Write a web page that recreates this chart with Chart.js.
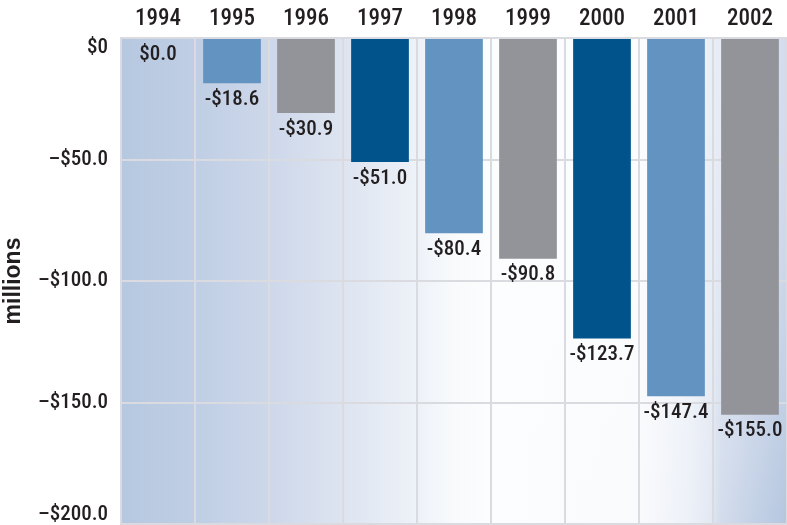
<!DOCTYPE html>
<html>
<head>
<meta charset="utf-8">
<script src="https://cdn.jsdelivr.net/npm/chart.js@4.4.1/dist/chart.umd.min.js"></script>
<style>
  html, body { margin: 0; padding: 0; background: #ffffff; }
  #wrap { width: 787px; height: 525px; position: relative; }
</style>
</head>
<body>
<div id="wrap"><canvas id="c" width="787" height="525"></canvas></div>
<script>
const years = ['1994', '1995', '1996', '1997', '1998', '1999', '2000', '2001', '2002'];
const values = [0.0, -18.6, -30.9, -51.0, -80.4, -90.8, -123.7, -147.4, -155.0];
const barColors = ['#6393c0', '#6393c0', '#939499', '#00538b', '#6393c0', '#939499', '#00538b', '#6393c0', '#939499'];
const yTickLabels = { '0': '$0', '-50': '\u2013$50.0', '-100': '\u2013$100.0', '-150': '\u2013$150.0', '-200': '\u2013$200.0' };
const yTitle = 'millions';

const FONT = "'Roboto Condensed', Roboto, sans-serif";
const TEXT = '#231f20';
const GRID = '#d9dbe0';

function fmt(v) {
  if (v === 0) return '$0.0';
  return (v < 0 ? '-$' : '$') + Math.abs(v).toFixed(1);
}

const topStops = [[0, '#b6c8e0'], [0.11, '#bfcee4'], [0.22, '#cdd7ea'], [0.33, '#dde4f0'], [0.44, '#edf1f8'],
  [0.5, '#f8fafc'], [0.56, '#fcfdfe'], [0.78, '#fbfcfe'], [0.85, '#f2f5fa'], [0.9, '#e6ebf5'], [1.0, '#d3dcec']];
const botStops = [[0, '#b6c8e0'], [0.11, '#bfcee4'], [0.22, '#cdd7ea'], [0.33, '#dde4f0'], [0.44, '#edf1f8'],
  [0.5, '#f8fafc'], [0.56, '#fcfdfe'], [0.78, '#f9fafc'], [0.85, '#edf1f8'], [0.885, '#e3e9f3'], [0.9, '#d3dcec'], [1.0, '#b4c6df']];

const bgPlugin = {
  id: 'bg',
  beforeDraw(chart) {
    const { ctx, chartArea: a } = chart;
    const w = a.right - a.left, h = a.bottom - a.top;
    const mk = (stops) => {
      const g = ctx.createLinearGradient(a.left, 0, a.right, 0);
      stops.forEach(s => g.addColorStop(s[0], s[1]));
      return g;
    };
    ctx.save();
    ctx.fillStyle = mk(botStops);
    ctx.fillRect(a.left, a.top, w, h);
    ctx.fillStyle = mk(topStops);
    const step = 2;
    for (let y = 0; y < h; y += step) {
      const t = y / h;
      ctx.globalAlpha = 1 - Math.pow(t, 1.8);
      ctx.fillRect(a.left, a.top + y, w, step);
    }
    ctx.restore();
  }
};

const labelPlugin = {
  id: 'vlabels',
  afterDatasetsDraw(chart) {
    const { ctx } = chart;
    const meta = chart.getDatasetMeta(0);
    ctx.save();
    ctx.font = "500 21px " + FONT;
    ctx.fillStyle = TEXT;
    ctx.textAlign = 'center';
    ctx.textBaseline = 'top';
    meta.data.forEach((bar, i) => {
      const v = chart.data.datasets[0].data[i];
      const yEnd = Math.max(bar.y, bar.base);
      ctx.fillText(fmt(v), bar.x, yEnd + 6);
    });
    ctx.restore();
  }
};

new Chart(document.getElementById('c'), {
  type: 'bar',
  data: {
    labels: years,
    datasets: [{
      data: values,
      backgroundColor: barColors,
      borderWidth: 0,
      barPercentage: 0.78,
      categoryPercentage: 1.0
    }]
  },
  options: {
    responsive: false,
    animation: false,
    devicePixelRatio: 1,
    layout: { padding: { left: 0, right: 0, top: 0, bottom: 1 } },
    plugins: { legend: { display: false }, tooltip: { enabled: false } },
    scales: {
      x: {
        position: 'top',
        grid: { color: GRID, lineWidth: 2, drawTicks: false, offset: true },
        border: { color: GRID, width: 2 },
        ticks: { color: TEXT, font: { family: FONT, size: 23, weight: '500' }, padding: 5, maxRotation: 0 },
        afterFit(s) { s.height = 38; s.paddingLeft = 0; s.paddingRight = 0; }
      },
      y: {
        min: -200, max: 0,
        grid: { color: GRID, lineWidth: 2, drawTicks: false },
        border: { color: GRID, width: 2 },
        ticks: {
          stepSize: 50,
          color: TEXT,
          font: { family: FONT, size: 21, weight: '500', lineHeight: 0.9 },
          padding: 13,
          callback: (v) => {
            const s = yTickLabels[String(v)];
            if (s === undefined) return '';
            if (v === 0) return ['', s];
            if (v === -200) return [s, ''];
            return s;
          }
        },
        title: {
          display: true, text: yTitle, color: TEXT,
          font: { family: "'Liberation Sans', Arial, sans-serif", size: 23, weight: 'bold', lineHeight: 1.2 },
          padding: { top: 0, bottom: 0 }
        },
        afterFit(s) { s.width = 121; s.paddingTop = 0; s.paddingBottom = 0; }
      }
    }
  },
  plugins: [bgPlugin, labelPlugin]
});
</script>
</body>
</html>
